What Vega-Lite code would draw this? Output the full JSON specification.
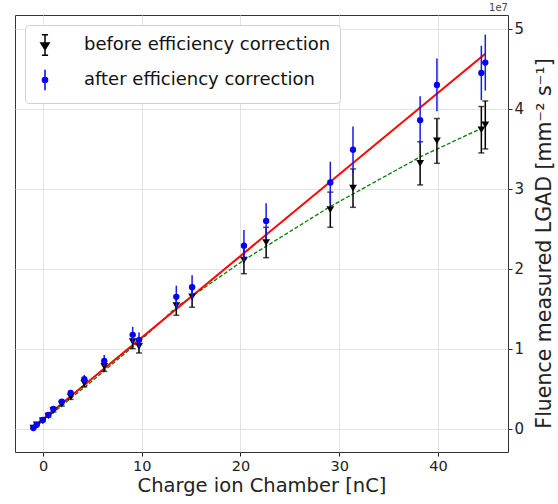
{
  "$schema": "https://vega.github.io/schema/vega-lite/v6.json",
  "width": 493,
  "height": 437,
  "autosize": "none",
  "padding": {"left": 15, "top": 15, "right": 50, "bottom": 52},
  "title": {"text": "1e7", "anchor": "end", "frame": "group", "fontSize": 10, "fontWeight": "normal", "color": "#444", "offset": 2},
  "config": {
    "font": "DejaVu Sans",
    "view": {"stroke": "#333", "strokeWidth": 1},
    "legend": {
      "orient": "top-left", "offset": 10, "padding": 9,
      "strokeColor": "#d0d0d0", "fillColor": "white", "cornerRadius": 4,
      "labelFontSize": 18, "labelColor": "#111", "labelOffset": 28, "rowPadding": 7,
      "symbolSize": 420, "symbolStrokeWidth": 1.5, "symbolOpacity": 1, "title": null, "labelLimit": 400
    }
  },
  "datasets": {
    "pts": [
      {"x": -0.98, "y": 0.01, "err": 0.001, "series": "before efficiency correction"},
      {"x": -0.64, "y": 0.05, "err": 0.004, "series": "before efficiency correction"},
      {"x": -0.03, "y": 0.10, "err": 0.008, "series": "before efficiency correction"},
      {"x": 0.54, "y": 0.16, "err": 0.013, "series": "before efficiency correction"},
      {"x": 1.05, "y": 0.23, "err": 0.018, "series": "before efficiency correction"},
      {"x": 1.9, "y": 0.31, "err": 0.025, "series": "before efficiency correction"},
      {"x": 2.8, "y": 0.40, "err": 0.032, "series": "before efficiency correction"},
      {"x": 4.18, "y": 0.57, "err": 0.046, "series": "before efficiency correction"},
      {"x": 6.2, "y": 0.78, "err": 0.062, "series": "before efficiency correction"},
      {"x": 9.08, "y": 1.09, "err": 0.087, "series": "before efficiency correction"},
      {"x": 9.72, "y": 1.03, "err": 0.082, "series": "before efficiency correction"},
      {"x": 13.5, "y": 1.54, "err": 0.12, "series": "before efficiency correction"},
      {"x": 15.1, "y": 1.65, "err": 0.13, "series": "before efficiency correction"},
      {"x": 20.35, "y": 2.11, "err": 0.17, "series": "before efficiency correction"},
      {"x": 22.6, "y": 2.33, "err": 0.19, "series": "before efficiency correction"},
      {"x": 29.1, "y": 2.74, "err": 0.22, "series": "before efficiency correction"},
      {"x": 31.4, "y": 3.01, "err": 0.24, "series": "before efficiency correction"},
      {"x": 38.2, "y": 3.32, "err": 0.27, "series": "before efficiency correction"},
      {"x": 39.9, "y": 3.60, "err": 0.28, "series": "before efficiency correction"},
      {"x": 44.4, "y": 3.74, "err": 0.29, "series": "before efficiency correction"},
      {"x": 44.8, "y": 3.80, "err": 0.30, "series": "before efficiency correction"},
      {"x": -0.98, "y": 0.01, "err": 0.001, "series": "after efficiency correction"},
      {"x": -0.64, "y": 0.05, "err": 0.004, "series": "after efficiency correction"},
      {"x": -0.03, "y": 0.11, "err": 0.009, "series": "after efficiency correction"},
      {"x": 0.54, "y": 0.175, "err": 0.015, "series": "after efficiency correction"},
      {"x": 1.05, "y": 0.25, "err": 0.021, "series": "after efficiency correction"},
      {"x": 1.9, "y": 0.34, "err": 0.029, "series": "after efficiency correction"},
      {"x": 2.8, "y": 0.45, "err": 0.038, "series": "after efficiency correction"},
      {"x": 4.18, "y": 0.62, "err": 0.053, "series": "after efficiency correction"},
      {"x": 6.2, "y": 0.85, "err": 0.072, "series": "after efficiency correction"},
      {"x": 9.08, "y": 1.175, "err": 0.10, "series": "after efficiency correction"},
      {"x": 9.72, "y": 1.11, "err": 0.094, "series": "after efficiency correction"},
      {"x": 13.5, "y": 1.65, "err": 0.14, "series": "after efficiency correction"},
      {"x": 15.1, "y": 1.77, "err": 0.15, "series": "after efficiency correction"},
      {"x": 20.35, "y": 2.29, "err": 0.195, "series": "after efficiency correction"},
      {"x": 22.6, "y": 2.60, "err": 0.22, "series": "after efficiency correction"},
      {"x": 29.1, "y": 3.08, "err": 0.26, "series": "after efficiency correction"},
      {"x": 31.4, "y": 3.49, "err": 0.29, "series": "after efficiency correction"},
      {"x": 38.2, "y": 3.86, "err": 0.30, "series": "after efficiency correction"},
      {"x": 39.9, "y": 4.30, "err": 0.33, "series": "after efficiency correction"},
      {"x": 44.4, "y": 4.45, "err": 0.34, "series": "after efficiency correction"},
      {"x": 44.8, "y": 4.58, "err": 0.35, "series": "after efficiency correction"}
    ],
    "fits": [
      {"x": -1.0, "y": 0.02, "fit": "linear"},
      {"x": 44.8, "y": 4.69, "fit": "linear"},
      {"x": -1.0, "y": 0.0, "fit": "curve"},
      {"x": 5.0, "y": 0.60, "fit": "curve"},
      {"x": 10.0, "y": 1.12, "fit": "curve"},
      {"x": 13.5, "y": 1.52, "fit": "curve"},
      {"x": 20.35, "y": 2.11, "fit": "curve"},
      {"x": 29.1, "y": 2.78, "fit": "curve"},
      {"x": 38.2, "y": 3.40, "fit": "curve"},
      {"x": 44.8, "y": 3.78, "fit": "curve"}
    ]
  },
  "encoding": {
    "x": {
      "field": "x", "type": "quantitative",
      "scale": {"domain": [-2.84, 47.1], "nice": false, "zero": false},
      "axis": {
        "title": "Charge ion Chamber [nC]", "values": [0, 10, 20, 30, 40],
        "domain": false, "grid": true, "gridColor": "#e3e3e3",
        "tickColor": "#222", "tickSize": 4, "labelFontSize": 14.5, "labelColor": "#222", "labelPadding": 3,
        "titleFontSize": 19.5, "titleFontWeight": "normal", "titleColor": "#222", "titlePadding": 4
      }
    },
    "y": {
      "field": "y", "type": "quantitative",
      "scale": {"domain": [-0.29, 5.175], "nice": false, "zero": false},
      "axis": {
        "orient": "right", "title": "Fluence measured LGAD [mm⁻² s⁻¹]", "values": [0, 1, 2, 3, 4, 5],
        "domain": false, "grid": true, "gridColor": "#e3e3e3",
        "tickColor": "#222", "tickSize": 4, "labelFontSize": 15, "labelColor": "#222", "labelPadding": 2,
        "titleFontSize": 20.5, "titleFontWeight": "normal", "titleColor": "#222", "titleAngle": 270, "titleBaseline": "top", "titlePadding": 11, "titleY": 228
      }
    }
  },
  "layer": [
    {
      "data": {"name": "fits"},
      "transform": [{"filter": "datum.fit == 'curve'"}],
      "mark": {"type": "line", "color": "#008000", "strokeWidth": 1.3, "strokeDash": [4, 2]}
    },
    {
      "data": {"name": "fits"},
      "transform": [{"filter": "datum.fit == 'linear'"}],
      "mark": {"type": "line", "color": "#ff0000", "strokeWidth": 2}
    },
    {
      "data": {"name": "pts"},
      "transform": [{"filter": "datum.series == 'before efficiency correction'"}],
      "mark": {"type": "errorbar", "ticks": {"size": 6}, "color": "black", "thickness": 1.5},
      "encoding": {"yError": {"field": "err"}}
    },
    {
      "data": {"name": "pts"},
      "transform": [{"filter": "datum.series == 'before efficiency correction'"}],
      "mark": {"type": "point", "shape": "triangle-down", "filled": true, "color": "black", "size": 60, "opacity": 1}
    },
    {
      "data": {"name": "pts"},
      "transform": [{"filter": "datum.series == 'after efficiency correction'"}],
      "mark": {"type": "errorbar", "color": "#1a1ae6", "thickness": 1.5},
      "encoding": {"yError": {"field": "err"}}
    },
    {
      "data": {"name": "pts"},
      "transform": [{"filter": "datum.series == 'after efficiency correction'"}],
      "mark": {"type": "point", "shape": "circle", "filled": true, "color": "blue", "size": 40, "opacity": 1}
    },
    {
      "data": {"name": "pts"},
      "transform": [{"filter": "datum.x > 1000"}],
      "mark": {"type": "point", "filled": true, "size": 420, "strokeWidth": 1.5, "opacity": 1},
      "encoding": {
        "fill": {"field": "series", "type": "nominal", "scale": {"domain": ["before efficiency correction", "after efficiency correction"], "range": ["black", "blue"]}},
        "stroke": {"field": "series", "type": "nominal", "scale": {"domain": ["before efficiency correction", "after efficiency correction"], "range": ["black", "blue"]}},
        "shape": {"field": "series", "type": "nominal", "scale": {"domain": ["before efficiency correction", "after efficiency correction"], "range": ["M0,-1V1M-0.3,-1H0.3M-0.3,1H0.3M-0.4,-0.2L0.4,-0.2L0,0.45Z", "M0,-1V1M-0.25,0A0.25,0.25 0 1,0 0.25,0A0.25,0.25 0 1,0 -0.25,0Z"]}}
      }
    }
  ]
}
